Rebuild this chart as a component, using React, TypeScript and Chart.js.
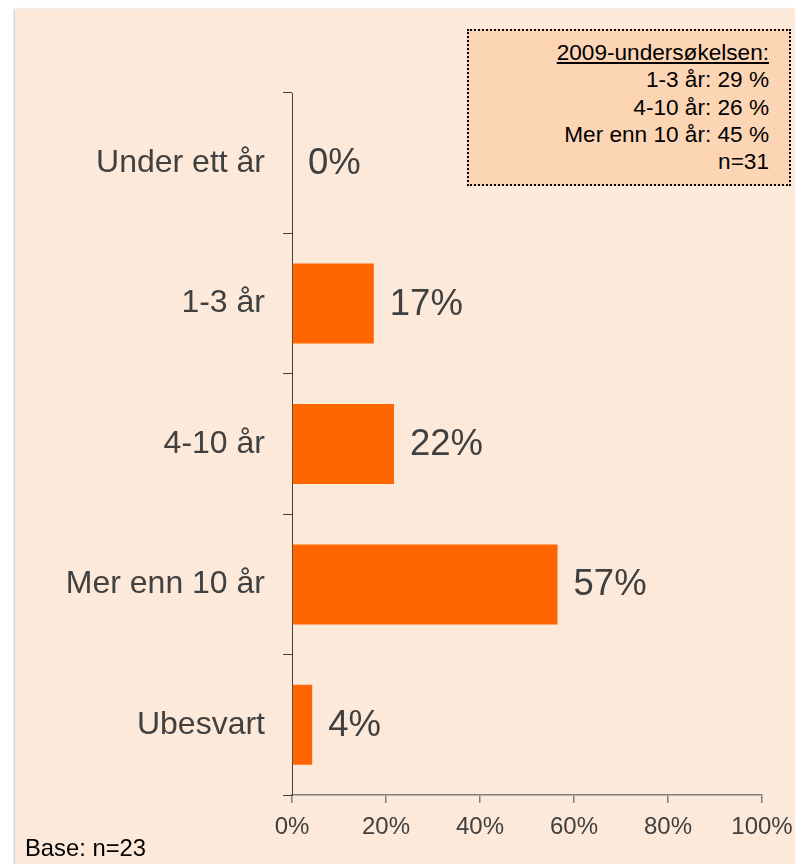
import React, { useEffect, useRef } from "react";
import { Chart, registerables } from "chart.js";

Chart.register(...registerables);

const categories = ["Under ett år", "1-3 år", "4-10 år", "Mer enn 10 år", "Ubesvart"];
const values = [0, 17.4, 21.7, 56.5, 4.3];
const valueLabels = ["0%", "17%", "22%", "57%", "4%"];
const xTickValues = [0, 20, 40, 60, 80, 100];
const legendTitle = "2009-undersøkelsen:";
const legendLines = ["1-3 år: 29 %", "4-10 år: 26 %", "Mer enn 10 år: 45 %", "n=31"];
const baseNote = "Base: n=23";

const FONT = "'Liberation Sans', Arial, sans-serif";
const TEXT_GREY = "#404040";
const BAR_COLOR = "#FF6600";
const PANEL_BG = "#FDE9D9";
const LEGEND_BG = "#FCD5B5";

const valueLabelPlugin = {
  id: "valueLabels",
  afterDatasetsDraw(chart: any) {
    const ctx = chart.ctx;
    const meta = chart.getDatasetMeta(0);
    ctx.save();
    ctx.font = `36.5px ${FONT}`;
    ctx.fillStyle = TEXT_GREY;
    ctx.textAlign = "left";
    ctx.textBaseline = "middle";
    meta.data.forEach((bar: any, i: number) => {
      ctx.fillText(valueLabels[i], bar.x + 16, bar.y + 1);
    });
    ctx.restore();
  },
};

export default function App() {
  const canvasRef = useRef<HTMLCanvasElement | null>(null);

  useEffect(() => {
    if (!canvasRef.current) return;
    const chart = new Chart(canvasRef.current, {
      type: "bar",
      data: {
        labels: categories,
        datasets: [
          {
            data: values,
            backgroundColor: BAR_COLOR,
            borderWidth: 0,
            barPercentage: 0.57,
            categoryPercentage: 1,
          },
        ],
      },
      options: {
        indexAxis: "y",
        animation: false,
        responsive: false,
        maintainAspectRatio: false,
        layout: { padding: { top: 93, right: 36, bottom: 0, left: 0 } },
        plugins: {
          legend: { display: false },
          title: { display: false },
          tooltip: { enabled: false },
        },
        scales: {
          x: {
            type: "linear",
            min: 0,
            max: 100,
            afterBuildTicks: (scale: any) => {
              scale.ticks = xTickValues.map((v) => ({ value: v }));
            },
            afterFit: (scale: any) => {
              scale.height = 69;
              scale.paddingRight = 0;
              scale.paddingLeft = 0;
            },
            grid: {
              drawOnChartArea: false,
              drawTicks: true,
              tickLength: 8,
              color: "#7f7f7f",
              lineWidth: 1.5,
            },
            border: { color: "#7f7f7f", width: 1.5 },
            ticks: {
              padding: 10,
              color: TEXT_GREY,
              font: { family: FONT, size: 24 },
              callback: (v: any) => `${v}%`,
              maxRotation: 0,
              autoSkip: false,
            },
          },
          y: {
            type: "category",
            afterFit: (scale: any) => {
              scale.width = 292;
            },
            grid: {
              offset: true,
              drawOnChartArea: false,
              drawTicks: true,
              tickLength: 9,
              color: "#404040",
              lineWidth: 1,
            },
            border: { color: "#404040", width: 1 },
            ticks: {
              padding: 18,
              color: TEXT_GREY,
              font: { family: FONT, size: 32 },
              autoSkip: false,
            },
          },
        },
      },
      plugins: [valueLabelPlugin],
    } as any);
    return () => chart.destroy();
  }, []);

  return (
    <div
      style={{
        position: "absolute",
        left: 0,
        top: 0,
        width: 798,
        height: 864,
        overflow: "hidden",
        background: "#ffffff",
        fontFamily: FONT,
      }}
    >
      <div
        style={{
          position: "absolute",
          left: 15,
          top: 9,
          width: 780,
          height: 860,
          background: PANEL_BG,
          boxShadow: "-1px 0 2px rgba(0,0,0,0.25)",
        }}
      />
      <canvas
        ref={canvasRef}
        width={798}
        height={864}
        style={{ position: "absolute", left: 0, top: 0, display: "block" }}
      />
      <div
        style={{
          position: "absolute",
          left: 467,
          top: 29,
          width: 324,
          height: 157,
          boxSizing: "border-box",
          border: "2px dotted #000",
          background: LEGEND_BG,
          textAlign: "right",
          paddingRight: 20,
          paddingTop: 8,
          fontSize: 22.6,
          lineHeight: "27.25px",
          color: "#000",
        }}
      >
        <div style={{ textDecoration: "underline" }}>{legendTitle}</div>
        {legendLines.map((l) => (
          <div key={l}>{l}</div>
        ))}
      </div>
      <div
        style={{
          position: "absolute",
          left: 25,
          top: 834,
          fontSize: 23.8,
          lineHeight: "28px",
          color: "#000",
        }}
      >
        {baseNote}
      </div>
    </div>
  );
}
